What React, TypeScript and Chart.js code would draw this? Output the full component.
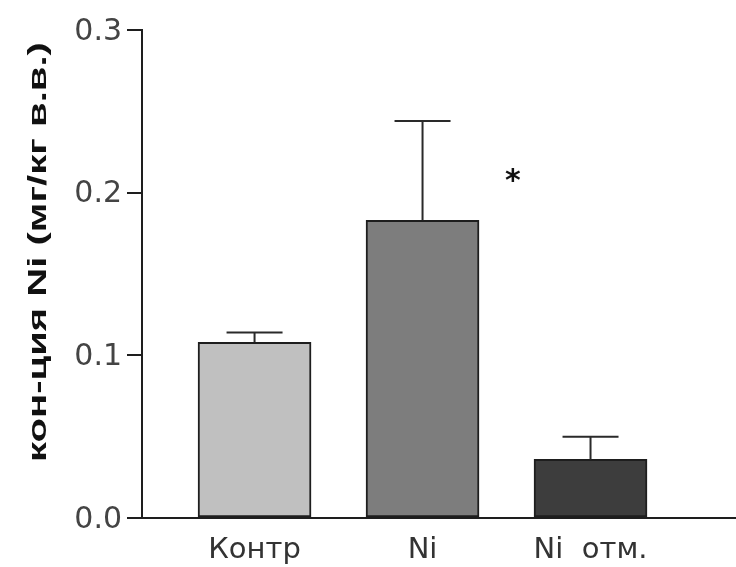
import React, { useEffect, useRef } from "react";
import { Chart, registerables } from "chart.js";

Chart.register(...registerables);

const categories = ["Контр", "Ni", "Ni  отм."];
const positions = [1, 2, 3];
const means = [0.108, 0.183, 0.036];
const errors = [0.006, 0.061, 0.014];
const barColors = ["#c0c0c0", "#7d7d7d", "#3d3d3d"];
const yTicks = [0, 0.1, 0.2, 0.3];
const markers = [{ x: 2.538, y: 0.21, text: "*" }];
const yTitle = "кон-ция Ni (мг/кг в.в.)";

const errorBarPlugin = {
  id: "errorBars",
  afterDatasetsDraw(chart: any) {
    const ctx = chart.ctx;
    const meta = chart.getDatasetMeta(0);
    const yScale = chart.scales.y;
    const xScale = chart.scales.x;
    ctx.save();
    ctx.strokeStyle = "#2a2a2a";
    ctx.lineWidth = 2;
    meta.data.forEach((bar: any, i: number) => {
      const x = bar.x;
      const yTop = yScale.getPixelForValue(means[i]);
      const yErr = yScale.getPixelForValue(means[i] + errors[i]);
      ctx.beginPath();
      ctx.moveTo(x, yTop);
      ctx.lineTo(x, yErr);
      ctx.moveTo(x - 28, yErr);
      ctx.lineTo(x + 28, yErr);
      ctx.stroke();
    });
    ctx.fillStyle = "#111";
    ctx.font = "bold 30px 'DejaVu Sans'";
    ctx.textAlign = "center";
    ctx.textBaseline = "middle";
    markers.forEach((m) => {
      ctx.fillText(m.text, xScale.getPixelForValue(m.x), yScale.getPixelForValue(m.y) + 6);
    });
    ctx.restore();
  },
};

const yTitlePlugin = {
  id: "yTitle",
  afterDraw(chart: any) {
    const ctx = chart.ctx;
    const area = chart.chartArea;
    ctx.save();
    ctx.translate(46, (area.top + area.bottom) / 2 - 22);
    ctx.rotate(-Math.PI / 2);
    ctx.scale(1.54, 1);
    ctx.font = "bold 26px 'Liberation Sans'";
    ctx.fillStyle = "#111";
    ctx.textAlign = "center";
    ctx.textBaseline = "alphabetic";
    ctx.fillText(yTitle, 0, 0);
    ctx.restore();
  },
};

export default function App() {
  const ref = useRef<HTMLCanvasElement>(null);
  useEffect(() => {
    const chart = new Chart(ref.current as HTMLCanvasElement, {
      type: "bar",
      data: {
        datasets: [
          {
            data: positions.map((p, i) => ({ x: p, y: means[i] })),
            backgroundColor: barColors,
            borderColor: "#1e1e1e",
            borderWidth: 2,
            borderSkipped: false,
            barThickness: 113,
          },
        ],
      },
      options: {
        animation: false,
        responsive: true,
        maintainAspectRatio: false,
        plugins: { legend: { display: false }, tooltip: { enabled: false } },
        layout: { padding: { top: 30, right: 0, bottom: 0, left: 0 } },
        scales: {
          x: {
            type: "linear",
            offset: false,
            min: 0.33,
            max: 3.866,
            afterBuildTicks: (s: any) => {
              s.ticks = positions.map((p) => ({ value: p }));
            },
            afterFit: (s: any) => {
              s.height = 49;
            },
            grid: { display: false, drawTicks: false, offset: false },
            border: { display: true, color: "#1e1e1e", width: 2 },
            ticks: {
              autoSkip: false,
              maxRotation: 0,
              padding: 15,
              color: "#333",
              font: { family: "'DejaVu Sans'", size: 29 },
              callback: (v: any) => categories[positions.indexOf(v)] ?? "",
            },
          },
          y: {
            min: 0,
            max: 0.3,
            afterBuildTicks: (s: any) => {
              s.ticks = yTicks.map((v) => ({ value: v }));
            },
            afterFit: (s: any) => {
              s.width = 142;
            },
            grid: {
              display: true,
              drawOnChartArea: false,
              drawTicks: true,
              tickLength: 15,
              tickColor: "#1e1e1e",
              lineWidth: 2,
            },
            border: { display: true, color: "#1e1e1e", width: 2 },
            ticks: {
              padding: 5,
              labelOffset: 2,
              color: "#444",
              font: { family: "'DejaVu Sans'", size: 30 },
              callback: (v: any) => Number(v).toFixed(1),
            },
            title: { display: false },
          },
        },
      },
      plugins: [errorBarPlugin, yTitlePlugin],
    } as any);
    return () => chart.destroy();
  }, []);
  return (
    <div style={{ position: "fixed", left: 0, top: 0, width: 736, height: 567, background: "#fff" }}>
      <canvas ref={ref} />
    </div>
  );
}
